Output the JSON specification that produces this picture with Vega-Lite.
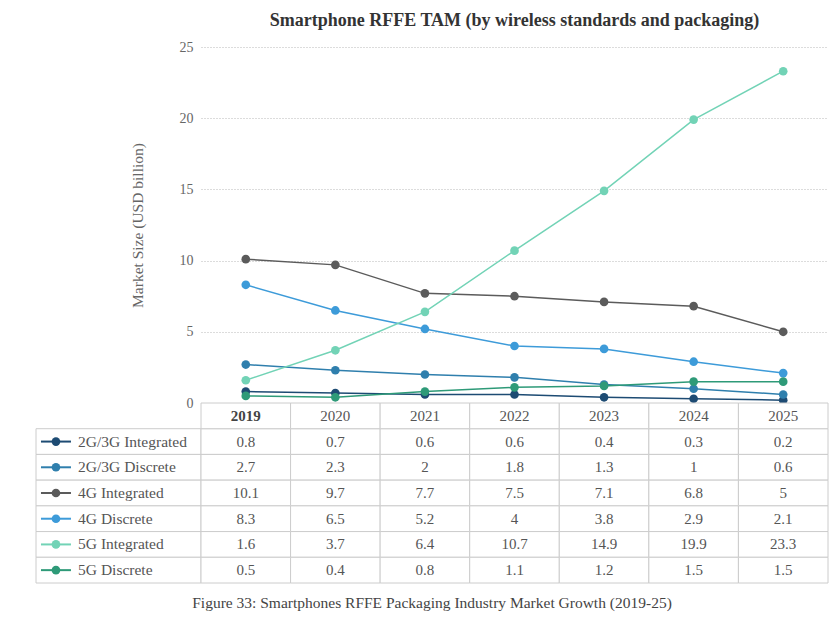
{
  "$schema": "https://vega.github.io/schema/vega-lite/v6.json",
  "padding": {"left": 35, "top": 12, "right": 13, "bottom": 5},
  "background": "white",
  "datasets": {
    "market": [
      {"series": "2G/3G Integrated", "year": 2019, "value": 0.8},
      {"series": "2G/3G Integrated", "year": 2020, "value": 0.7},
      {"series": "2G/3G Integrated", "year": 2021, "value": 0.6},
      {"series": "2G/3G Integrated", "year": 2022, "value": 0.6},
      {"series": "2G/3G Integrated", "year": 2023, "value": 0.4},
      {"series": "2G/3G Integrated", "year": 2024, "value": 0.3},
      {"series": "2G/3G Integrated", "year": 2025, "value": 0.2},
      {"series": "2G/3G Discrete", "year": 2019, "value": 2.7},
      {"series": "2G/3G Discrete", "year": 2020, "value": 2.3},
      {"series": "2G/3G Discrete", "year": 2021, "value": 2},
      {"series": "2G/3G Discrete", "year": 2022, "value": 1.8},
      {"series": "2G/3G Discrete", "year": 2023, "value": 1.3},
      {"series": "2G/3G Discrete", "year": 2024, "value": 1},
      {"series": "2G/3G Discrete", "year": 2025, "value": 0.6},
      {"series": "4G Integrated", "year": 2019, "value": 10.1},
      {"series": "4G Integrated", "year": 2020, "value": 9.7},
      {"series": "4G Integrated", "year": 2021, "value": 7.7},
      {"series": "4G Integrated", "year": 2022, "value": 7.5},
      {"series": "4G Integrated", "year": 2023, "value": 7.1},
      {"series": "4G Integrated", "year": 2024, "value": 6.8},
      {"series": "4G Integrated", "year": 2025, "value": 5},
      {"series": "4G Discrete", "year": 2019, "value": 8.3},
      {"series": "4G Discrete", "year": 2020, "value": 6.5},
      {"series": "4G Discrete", "year": 2021, "value": 5.2},
      {"series": "4G Discrete", "year": 2022, "value": 4},
      {"series": "4G Discrete", "year": 2023, "value": 3.8},
      {"series": "4G Discrete", "year": 2024, "value": 2.9},
      {"series": "4G Discrete", "year": 2025, "value": 2.1},
      {"series": "5G Integrated", "year": 2019, "value": 1.6},
      {"series": "5G Integrated", "year": 2020, "value": 3.7},
      {"series": "5G Integrated", "year": 2021, "value": 6.4},
      {"series": "5G Integrated", "year": 2022, "value": 10.7},
      {"series": "5G Integrated", "year": 2023, "value": 14.9},
      {"series": "5G Integrated", "year": 2024, "value": 19.9},
      {"series": "5G Integrated", "year": 2025, "value": 23.3},
      {"series": "5G Discrete", "year": 2019, "value": 0.5},
      {"series": "5G Discrete", "year": 2020, "value": 0.4},
      {"series": "5G Discrete", "year": 2021, "value": 0.8},
      {"series": "5G Discrete", "year": 2022, "value": 1.1},
      {"series": "5G Discrete", "year": 2023, "value": 1.2},
      {"series": "5G Discrete", "year": 2024, "value": 1.5},
      {"series": "5G Discrete", "year": 2025, "value": 1.5}
    ],
    "seriesList": [
      {"series": "2G/3G Integrated"},
      {"series": "2G/3G Discrete"},
      {"series": "4G Integrated"},
      {"series": "4G Discrete"},
      {"series": "5G Integrated"},
      {"series": "5G Discrete"}
    ],
    "years": [
      {"year": 2019}, {"year": 2020}, {"year": 2021}, {"year": 2022},
      {"year": 2023}, {"year": 2024}, {"year": 2025}
    ]
  },
  "title": {
    "text": "Figure 33: Smartphones RFFE Packaging Industry Market Growth (2019-25)",
    "orient": "bottom",
    "anchor": "middle",
    "font": "Liberation Serif",
    "fontSize": 15.5,
    "fontWeight": "normal",
    "color": "#444444",
    "offset": 12
  },
  "columns": 2,
  "spacing": 0,
  "bounds": "flush",
  "concat": [
    {
      "width": 165,
      "height": 356,
      "data": {"values": []},
      "mark": "point"
    },
    {
      "width": 627,
      "height": 356,
      "title": {
        "text": "Smartphone RFFE TAM (by wireless standards and packaging)",
        "font": "Liberation Serif",
        "fontSize": 18,
        "fontWeight": "bold",
        "color": "#333333",
        "anchor": "middle",
        "offset": 10
      },
      "data": {"name": "market"},
      "mark": {"type": "line", "strokeWidth": 1.5, "point": {"filled": true, "size": 75, "opacity": 1}},
      "encoding": {
        "x": {"field": "year", "type": "ordinal", "scale": {"type": "point", "padding": 0.5}, "axis": null},
        "y": {
          "field": "value", "type": "quantitative",
          "scale": {"domain": [0, 25], "nice": false},
          "axis": {
            "title": "Market Size (USD billion)",
            "values": [0, 5, 10, 15, 20, 25],
            "grid": true, "gridDash": [1, 2], "gridColor": "#b8b8b8", "gridWidth": 1,
            "domain": false, "ticks": false,
            "labelPadding": 8, "labelFont": "Liberation Serif", "labelFontSize": 14, "labelColor": "#666666",
            "titleFont": "Liberation Serif", "titleFontSize": 15.5, "titleFontWeight": "normal", "titleColor": "#666666",
            "titlePadding": 34
          }
        },
        "color": {
          "field": "series", "type": "nominal",
          "scale": {
            "domain": ["2G/3G Integrated", "2G/3G Discrete", "4G Integrated", "4G Discrete", "5G Integrated", "5G Discrete"],
            "range": ["#1d4b73", "#2f7fad", "#5b5b5b", "#3d9bd9", "#72d3b6", "#2e9a78"]
          },
          "legend": null
        }
      }
    },
    {
      "width": 165,
      "height": 180,
      "data": {"name": "seriesList"},
      "layer": [
        {
          "mark": {"type": "rect", "fill": "white", "stroke": "#cccccc", "strokeWidth": 1},
          "encoding": {
            "y": {"field": "series", "type": "nominal",
              "scale": {"domain": ["header", "2G/3G Integrated", "2G/3G Discrete", "4G Integrated", "4G Discrete", "5G Integrated", "5G Discrete"], "paddingInner": 0, "paddingOuter": 0},
              "axis": null}
          }
        },
        {
          "mark": {"type": "point", "shape": "stroke", "size": 900, "filled": false, "strokeWidth": 2, "opacity": 1},
          "encoding": {
            "x": {"datum": 0.121, "type": "quantitative", "scale": {"domain": [0, 1], "nice": false}, "axis": null},
            "y": {"field": "series", "type": "nominal"},
            "color": {"field": "series", "type": "nominal",
              "scale": {
                "domain": ["2G/3G Integrated", "2G/3G Discrete", "4G Integrated", "4G Discrete", "5G Integrated", "5G Discrete"],
                "range": ["#1d4b73", "#2f7fad", "#5b5b5b", "#3d9bd9", "#72d3b6", "#2e9a78"]
              }, "legend": null}
          }
        },
        {
          "mark": {"type": "point", "filled": true, "size": 75, "opacity": 1},
          "encoding": {
            "x": {"datum": 0.121, "type": "quantitative"},
            "y": {"field": "series", "type": "nominal"},
            "color": {"field": "series", "type": "nominal", "legend": null}
          }
        },
        {
          "mark": {"type": "text", "align": "left", "baseline": "middle", "font": "Liberation Serif", "fontSize": 15.5, "color": "#555555"},
          "encoding": {
            "x": {"datum": 0.255, "type": "quantitative"},
            "y": {"field": "series", "type": "nominal"},
            "text": {"field": "series", "type": "nominal"}
          }
        }
      ]
    },
    {
      "width": 627,
      "height": 180,
      "layer": [
        {
          "data": {"name": "market"},
          "mark": {"type": "rect", "fill": "white", "stroke": "#cccccc", "strokeWidth": 1},
          "encoding": {
            "x": {"field": "year", "type": "ordinal", "scale": {"paddingInner": 0, "paddingOuter": 0}, "axis": null},
            "y": {"field": "series", "type": "nominal",
              "scale": {"domain": ["header", "2G/3G Integrated", "2G/3G Discrete", "4G Integrated", "4G Discrete", "5G Integrated", "5G Discrete"], "paddingInner": 0, "paddingOuter": 0},
              "axis": null}
          }
        },
        {
          "data": {"name": "years"},
          "mark": {"type": "rect", "fill": "white", "stroke": "#cccccc", "strokeWidth": 1},
          "encoding": {
            "x": {"field": "year", "type": "ordinal"},
            "y": {"datum": "header", "type": "nominal"}
          }
        },
        {
          "data": {"name": "years"},
          "transform": [{"filter": "datum.year != 2019"}],
          "mark": {"type": "text", "align": "center", "baseline": "middle", "font": "Liberation Serif", "fontSize": 15, "color": "#555555"},
          "encoding": {
            "x": {"field": "year", "type": "ordinal"},
            "y": {"datum": "header", "type": "nominal"},
            "text": {"field": "year", "type": "nominal"}
          }
        },
        {
          "data": {"name": "years"},
          "transform": [{"filter": "datum.year == 2019"}],
          "mark": {"type": "text", "align": "center", "baseline": "middle", "font": "Liberation Serif", "fontSize": 15, "fontWeight": "bold", "color": "#444444"},
          "encoding": {
            "x": {"field": "year", "type": "ordinal"},
            "y": {"datum": "header", "type": "nominal"},
            "text": {"field": "year", "type": "nominal"}
          }
        },
        {
          "data": {"name": "market"},
          "mark": {"type": "text", "align": "center", "baseline": "middle", "font": "Liberation Serif", "fontSize": 15, "color": "#555555"},
          "encoding": {
            "x": {"field": "year", "type": "ordinal"},
            "y": {"field": "series", "type": "nominal"},
            "text": {"field": "value", "type": "nominal"}
          }
        }
      ]
    }
  ],
  "config": {
    "view": {"stroke": null},
    "font": "Liberation Serif"
  }
}
